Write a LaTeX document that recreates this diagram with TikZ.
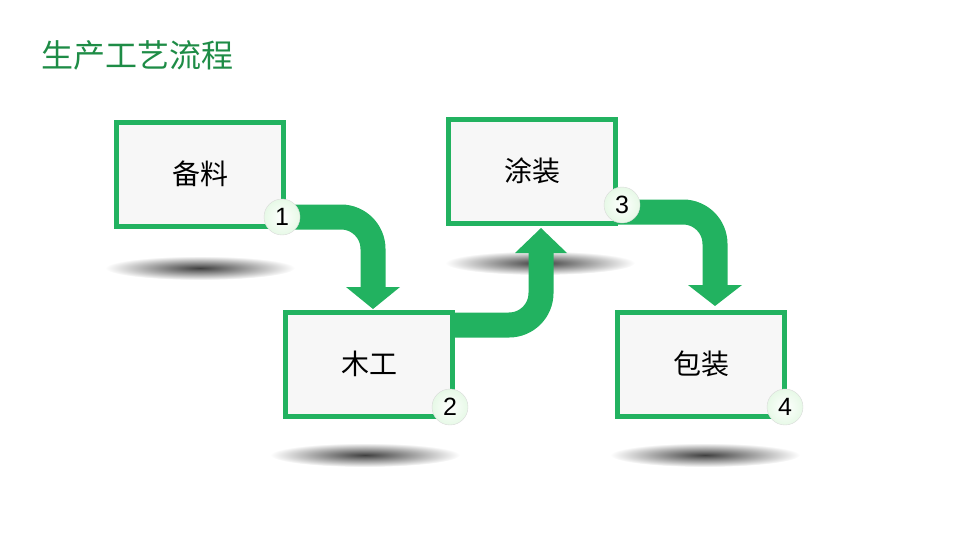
\documentclass[tikz,border=0pt]{standalone}
\usepackage{fontspec}
\setmainfont{Liberation Sans}
\newfontfamily\cjk{Noto Sans CJK SC}
\begin{document}
\begin{tikzpicture}[x=1pt,y=-1pt,
  gbox/.style={draw=grn,line width=5pt,fill=gray!6,minimum width=167pt,minimum height=104pt,inner sep=0pt,font=\cjk\fontsize{28}{30}\selectfont},
  num/.style={circle,minimum size=36pt,inner sep=0pt,shade,inner color=white,outer color=gray!40!green!12!white,draw=gray!30,font=\fontsize{25}{27}\selectfont},
  band/.style={draw=grn,line width=25pt,rounded corners=32pt},
  head/.style={fill=grn},
  shad/.style={inner color=black!75,outer color=white}]
\definecolor{grn}{RGB}{34,178,96}
\definecolor{ttl}{RGB}{30,140,70}
\useasboundingbox (0,0) rectangle (960,549);
\node[anchor=west,text=ttl,font=\cjk\fontsize{32}{36}\selectfont] (title) at (38,55) {生产工艺流程};
% shadows
\shade[shad] (200,268) ellipse [x radius=95,y radius=12];
\shade[shad] (540,263) ellipse [x radius=95,y radius=12];
\shade[shad] (365,455) ellipse [x radius=95,y radius=12];
\shade[shad] (705,455) ellipse [x radius=95,y radius=12];
\coordinate (c1) at (200,174);
\coordinate (c2) at (369,364);
\coordinate (c3) at (532,171);
\coordinate (c4) at (701,364);
% arrows
\draw[band] (285,217) -- (373,217) -- (373,290);
\fill[head] (346,287) -- (400,287) -- (373,309) -- cycle;
\draw[band] (450,325) -- (541,325) -- (541,250);
\fill[head] (515,253) -- (567,253) -- (541,228) -- cycle;
\draw[band] (612,212) -- (715,212) -- (715,288);
\fill[head] (688,285) -- (742,285) -- (715,306) -- cycle;
\node[gbox] (b1) at (c1) {备料};
\node[gbox] (b2) at (c2) {木工};
\node[gbox] (b3) at (c3) {涂装};
\node[gbox] (b4) at (c4) {包装};
\node[num] (n1) at (282,217) {1};
\node[num] (n2) at (450,407) {2};
\node[num] (n3) at (622,205) {3};
\node[num] (n4) at (785,407) {4};
\end{tikzpicture}
\end{document}
